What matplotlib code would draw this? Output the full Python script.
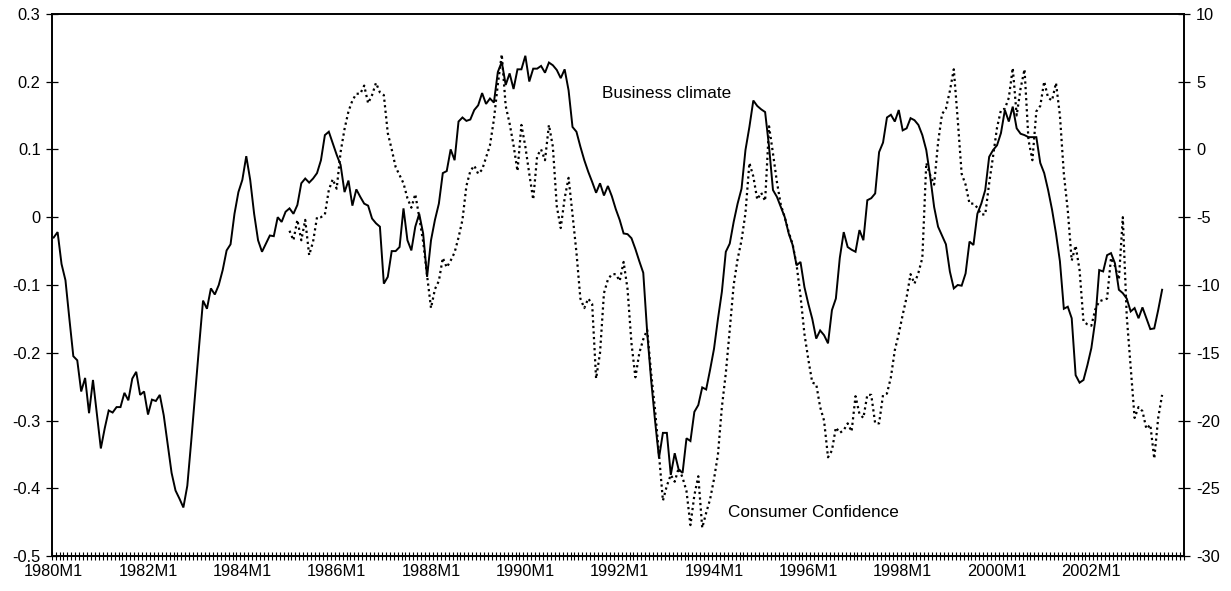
import numpy as np
import matplotlib
matplotlib.use("Agg")
import matplotlib.pyplot as plt
from matplotlib.ticker import FixedLocator, FixedFormatter, NullFormatter

plt.rcParams['font.family'] = ['Liberation Sans', 'DejaVu Sans']

# Monthly series, first month = 1980M1
first_year = 1980
n_slots = 288  # 1980M1 .. 2003M12 on the category axis

business_climate = [
    -0.030, -0.022, -0.069, -0.093, -0.150, -0.205, -0.211, -0.257, -0.237, -0.289,
    -0.240, -0.290, -0.341, -0.311, -0.285, -0.288, -0.280, -0.280, -0.259, -0.270,
    -0.238, -0.228, -0.262, -0.257, -0.291, -0.269, -0.271, -0.262, -0.292, -0.334,
    -0.377, -0.403, -0.415, -0.428, -0.396, -0.330, -0.260, -0.190, -0.123, -0.135,
    -0.105, -0.114, -0.100, -0.078, -0.049, -0.040, 0.005, 0.037, 0.055, 0.090,
    0.055, 0.005, -0.034, -0.051, -0.039, -0.027, -0.028, 0.000, -0.007, 0.008,
    0.013, 0.005, 0.018, 0.050, 0.057, 0.051, 0.057, 0.065, 0.084, 0.121,
    0.126, 0.109, 0.092, 0.077, 0.037, 0.054, 0.017, 0.041, 0.030, 0.020,
    0.017, -0.002, -0.009, -0.014, -0.098, -0.088, -0.050, -0.050, -0.044, 0.013,
    -0.034, -0.049, -0.014, 0.005, -0.024, -0.088, -0.034, -0.004, 0.020, 0.065,
    0.068, 0.100, 0.084, 0.141, 0.147, 0.142, 0.144, 0.158, 0.165, 0.183,
    0.167, 0.175, 0.169, 0.214, 0.229, 0.195, 0.212, 0.189, 0.218, 0.218,
    0.238, 0.200, 0.219, 0.219, 0.223, 0.213, 0.228, 0.224, 0.217, 0.205,
    0.218, 0.187, 0.133, 0.126, 0.104, 0.084, 0.067, 0.052, 0.036, 0.050,
    0.032, 0.046, 0.031, 0.012, -0.004, -0.024, -0.025, -0.031, -0.047, -0.065,
    -0.082, -0.170, -0.240, -0.300, -0.355, -0.318, -0.318, -0.380, -0.348, -0.372,
    -0.377, -0.326, -0.330, -0.287, -0.277, -0.251, -0.254, -0.225, -0.194, -0.150,
    -0.110, -0.051, -0.039, -0.007, 0.020, 0.042, 0.099, 0.133, 0.172, 0.164,
    0.159, 0.155, 0.104, 0.040, 0.030, 0.015, 0.000, -0.024, -0.041, -0.071,
    -0.066, -0.103, -0.128, -0.150, -0.179, -0.167, -0.174, -0.186, -0.137, -0.120,
    -0.060, -0.022, -0.044, -0.048, -0.051, -0.019, -0.034, 0.025, 0.028, 0.035,
    0.096, 0.110, 0.147, 0.151, 0.141, 0.158, 0.128, 0.131, 0.146, 0.143,
    0.136, 0.121, 0.099, 0.060, 0.015, -0.014, -0.027, -0.040, -0.080, -0.105,
    -0.100, -0.101, -0.083, -0.036, -0.041, 0.005, 0.020, 0.040, 0.089, 0.099,
    0.106, 0.124, 0.158, 0.141, 0.163, 0.131, 0.123, 0.121, 0.118, 0.118,
    0.118, 0.080, 0.065, 0.040, 0.011, -0.024, -0.065, -0.135, -0.132, -0.149,
    -0.233, -0.244, -0.240, -0.218, -0.193, -0.152, -0.078, -0.080, -0.056, -0.053,
    -0.068, -0.107, -0.112, -0.120, -0.139, -0.134, -0.149, -0.133, -0.149, -0.165,
    -0.164, -0.137, -0.107,
]

# Consumer confidence starts in 1985M1 (month index 60)
cc_first_index = 60
consumer_confidence = [
    -6.0, -6.7, -5.2, -6.7, -5.2, -7.8, -6.8, -5.0, -5.0, -4.8,
    -3.0, -2.2, -2.9, -0.2, 1.5, 2.8, 3.6, 4.1, 4.1, 4.7,
    3.4, 4.0, 4.9, 4.2, 4.0, 1.2, 0.0, -1.3, -1.9, -2.5,
    -3.6, -4.3, -3.3, -5.0, -6.8, -9.3, -11.7, -10.3, -9.7, -8.0,
    -8.7, -8.2, -7.6, -6.5, -5.2, -2.7, -1.6, -1.2, -1.8, -1.5,
    -0.6, 0.3, 2.2, 4.8, 7.0, 3.2, 1.9, 0.3, -1.6, 1.8,
    0.2, -1.8, -3.7, -0.5, 0.0, -0.8, 1.8, 0.2, -4.2, -5.8,
    -3.6, -2.1, -4.8, -7.6, -11.0, -11.7, -11.0, -11.4, -16.9, -15.0,
    -10.6, -9.6, -9.2, -9.2, -9.7, -8.3, -10.3, -14.3, -16.8, -15.0,
    -14.0, -13.3, -16.5, -19.2, -22.5, -25.9, -24.8, -24.0, -24.5, -23.5,
    -24.2, -25.2, -27.7, -25.5, -24.1, -27.9, -26.8, -25.8, -24.3, -22.5,
    -19.0, -16.5, -13.3, -10.0, -8.1, -6.7, -4.7, -1.0, -2.0, -3.7,
    -3.2, -3.8, 1.7, -0.3, -2.4, -4.1, -5.0, -6.1, -7.0, -8.5,
    -10.8, -13.6, -15.5, -17.2, -17.3, -19.0, -20.0, -22.7, -22.2, -20.5,
    -20.9, -20.7, -20.2, -20.8, -18.2, -19.5, -19.8, -18.1, -18.1, -20.2,
    -20.2, -18.1, -18.0, -16.8, -14.8, -13.6, -12.2, -10.9, -9.2, -9.9,
    -9.1, -8.0, -1.0, -1.9, -2.6, 0.5, 2.6, 3.0, 4.3, 5.9,
    2.2, -1.8, -2.6, -4.0, -4.0, -4.3, -4.8, -4.8, -2.5, -0.5,
    1.6, 2.9, 3.0, 3.8, 6.0, 2.5, 4.5, 5.9, 0.7, -0.8,
    2.8, 3.2, 5.0, 3.8, 3.6, 4.9, 2.5, -1.8, -4.5, -8.2,
    -7.1, -8.9, -12.7, -12.9, -13.0, -11.8, -11.2, -11.1, -11.0, -8.0,
    -8.6, -9.6, -5.0, -12.3, -16.1, -19.8, -19.0, -19.3, -20.6, -20.3,
    -22.8, -19.8, -18.1,
]

left_ticks = [0.3, 0.2, 0.1, 0.0, -0.1, -0.2, -0.3, -0.4, -0.5]
left_tick_labels = ["0.3", "0.2", "0.1", "0", "-0.1", "-0.2", "-0.3", "-0.4", "-0.5"]
right_ticks = [10, 5, 0, -5, -10, -15, -20, -25, -30]
right_tick_labels = ["10", "5", "0", "-5", "-10", "-15", "-20", "-25", "-30"]
label_years = list(range(1980, 2003, 2))

FS = 11.8
FS_NOTE = 12.3

fig = plt.figure(figsize=(12.31, 5.91), dpi=100)
ax = fig.add_axes([0.042, 0.0587, 0.9196, 0.9181])
ax2 = ax.twinx()

x_bc = np.arange(len(business_climate))
ax.plot(x_bc, business_climate, color="black", lw=1.4, solid_joinstyle="miter", zorder=3)

x_cc = np.arange(cc_first_index, cc_first_index + len(consumer_confidence))
ax2.plot(x_cc, consumer_confidence, color="black", lw=1.6,
         linestyle=(0, (1.0, 1.5)), dash_capstyle="butt", zorder=3)

ax.set_xlim(-0.5, n_slots - 0.5)
ax.set_ylim(-0.5, 0.3)
ax2.set_ylim(-30, 10)

# x axis: a tick between every month, labels every second January
label_pos = [(y - first_year) * 12 for y in label_years]
ax.xaxis.set_major_locator(FixedLocator(label_pos))
ax.xaxis.set_major_formatter(FixedFormatter([f"{y}M1" for y in label_years]))
ax.xaxis.set_minor_locator(FixedLocator(np.arange(-0.5, n_slots, 1.0)))
ax.xaxis.set_minor_formatter(NullFormatter())
ax.tick_params(axis="x", which="major", length=0, pad=5.5, labelsize=FS)
ax.tick_params(axis="x", which="minor", direction="inout", length=5.5, width=0.8)

ax.yaxis.set_major_locator(FixedLocator(left_ticks))
ax.yaxis.set_major_formatter(FixedFormatter(left_tick_labels))
ax.tick_params(axis="y", direction="inout", length=8, width=0.9, pad=4.0, labelsize=FS)

ax2.yaxis.set_major_locator(FixedLocator(right_ticks))
ax2.yaxis.set_major_formatter(FixedFormatter(right_tick_labels))
ax2.tick_params(axis="y", direction="inout", length=8, width=0.9, pad=5.0, labelsize=FS)

for a in (ax, ax2):
    for s in a.spines.values():
        s.set_linewidth(1.2)
        s.set_color("black")

ax.text(139.6, 0.183, "Business climate", fontsize=FS_NOTE, ha="left", va="center")
ax.text(171.6, -0.435, "Consumer Confidence", fontsize=FS_NOTE, ha="left", va="center")

fig.savefig("out.png", dpi=100)
